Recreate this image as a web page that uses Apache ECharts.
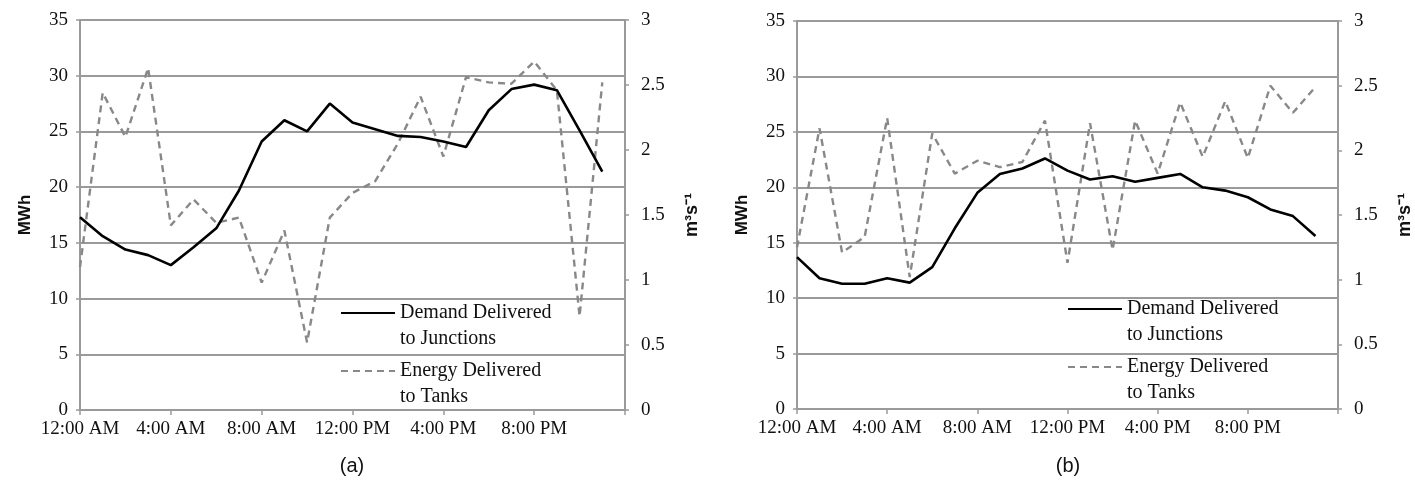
<!DOCTYPE html>
<html><head><meta charset="utf-8">
<script src="https://cdn.jsdelivr.net/npm/echarts@6/dist/echarts.min.js"></script>
<style>html,body{margin:0;padding:0;background:#fff}#c{width:1415px;height:483px}</style>
</head><body><div id="c"></div>
<script>
// ---- data ----
const hours = [0,1,2,3,4,5,6,7,8,9,10,11,12,13,14,15,16,17,18,19,20,21,22,23];
const timeLabels = ['12:00 AM','4:00 AM','8:00 AM','12:00 PM','4:00 PM','8:00 PM',''];
const demandA = [17.3,15.6,14.4,13.9,13.0,14.6,16.3,19.7,24.1,26.0,25.0,27.5,25.8,25.2,24.6,24.5,24.1,23.6,26.9,28.8,29.2,28.7,25.1,21.4];
const energyA = [1.10,2.44,2.10,2.63,1.42,1.62,1.44,1.48,0.98,1.38,0.52,1.48,1.67,1.76,2.05,2.41,1.95,2.56,2.52,2.51,2.68,2.46,0.72,2.52];
const demandB = [13.7,11.8,11.3,11.3,11.8,11.4,12.8,16.3,19.5,21.2,21.7,22.6,21.5,20.7,21.0,20.5,20.85,21.2,20.0,19.7,19.1,18.0,17.4,15.6];
const energyB = [1.25,2.17,1.21,1.33,2.25,1.02,2.13,1.82,1.92,1.87,1.91,2.23,1.13,2.21,1.23,2.23,1.82,2.37,1.95,2.38,1.94,2.50,2.29,2.49];
const seriesNames = ['Demand Delivered to Junctions','Energy Delivered to Tanks'];
const legendText = ['Demand Delivered\nto Junctions','Energy Delivered\nto Tanks'];
const panelLabels = ['(a)','(b)'];
const leftAxisName = 'MWh';
const rightAxisName = 'm³s⁻¹';

// ---- styling ----
const SERIF = 'Liberation Serif';
const SANS = 'Liberation Sans';
const GRID_COLOR = '#9a9a9a';
const grids = [
  {left:80, top:20, width:545, height:390},
  {left:797, top:21, width:545, height:388}
];
const legendPos = [
  [{left:340, top:274},{left:340, top:332}],
  [{left:1067, top:270},{left:1067, top:328}]
];
const labelPos = [[352,466],[1068,466]];

const xAxes = [], yAxes = [], series = [], legends = [], graphics = [];
const demand = [demandA, demandB], energy = [energyA, energyB];

for (let p = 0; p < 2; p++) {
  xAxes.push({
    type:'value', gridIndex:p, min:0, max:24, interval:4,
    axisLine:{show:true, lineStyle:{color:GRID_COLOR, width:2}},
    axisTick:{show:true, length:5, lineStyle:{color:GRID_COLOR, width:1.5}},
    axisLabel:{formatter:v => timeLabels[Math.round(v/4)], fontFamily:SERIF, fontSize:19, color:'#111', margin:10},
    splitLine:{show:false}
  });
  yAxes.push({
    type:'value', gridIndex:p, position:'left', min:0, max:35, interval:5,
    axisLine:{show:true, lineStyle:{color:GRID_COLOR, width:2}},
    axisTick:{show:true, length:4, lineStyle:{color:GRID_COLOR, width:1.5}},
    axisLabel:{fontFamily:SERIF, fontSize:19, color:'#111', margin:12},
    splitLine:{show:true, lineStyle:{color:GRID_COLOR, width:2}},
    name:leftAxisName, nameLocation:'middle', nameGap:46, nameRotate:90,
    nameTextStyle:{fontFamily:SANS, fontWeight:'bold', fontSize:17, color:'#111'}
  });
  yAxes.push({
    type:'value', gridIndex:p, position:'right', min:0, max:3, interval:0.5,
    axisLine:{show:true, lineStyle:{color:GRID_COLOR, width:2}},
    axisTick:{show:true, length:4, lineStyle:{color:GRID_COLOR, width:1.5}},
    axisLabel:{fontFamily:SERIF, fontSize:19, color:'#111', margin:16},
    splitLine:{show:false},
    name:rightAxisName, nameLocation:'middle', nameGap:58, nameRotate:90,
    nameTextStyle:{fontFamily:SANS, fontWeight:'bold', fontSize:18, color:'#111'}
  });
  series.push({
    name:seriesNames[0], type:'line', xAxisIndex:p, yAxisIndex:p*2, symbol:'none', z:3,
    data:hours.map((h,i) => [h, demand[p][i]]),
    lineStyle:{color:'#000', width:2.6}, itemStyle:{color:'#000'}
  });
  series.push({
    name:seriesNames[1], type:'line', xAxisIndex:p, yAxisIndex:p*2+1, symbol:'none', z:2,
    data:hours.map((h,i) => [h, energy[p][i]]),
    lineStyle:{color:'#888', width:2.4, type:[7,5]}, itemStyle:{color:'#888'}
  });
  for (let k = 0; k < 2; k++) {
    legends.push({
      show:true, data:[seriesNames[k]], orient:'vertical',
      left:legendPos[p][k].left, top:legendPos[p][k].top, padding:0,
      itemWidth:54, itemHeight:14, selectedMode:false,
      itemStyle:{opacity:0, borderWidth:0},
      formatter:n => '\n' + legendText[seriesNames.indexOf(n)],
      textStyle:{fontFamily:SERIF, fontSize:20, color:'#111', lineHeight:26}
    });
  }
  graphics.push({
    type:'text', x:labelPos[p][0], y:labelPos[p][1],
    style:{text:panelLabels[p], align:'center', verticalAlign:'middle', textAlign:'center', textVerticalAlign:'middle',
      font:'20px "' + SANS + '"', fill:'#111'}
  });
}

const chart = echarts.init(document.getElementById('c'), null, {renderer:'canvas'});
chart.setOption({
  animation:false,
  backgroundColor:'#fff',
  grid:grids,
  xAxis:xAxes,
  yAxis:yAxes,
  legend:legends,
  series:series,
  graphic:graphics
});
</script>
</body></html>
